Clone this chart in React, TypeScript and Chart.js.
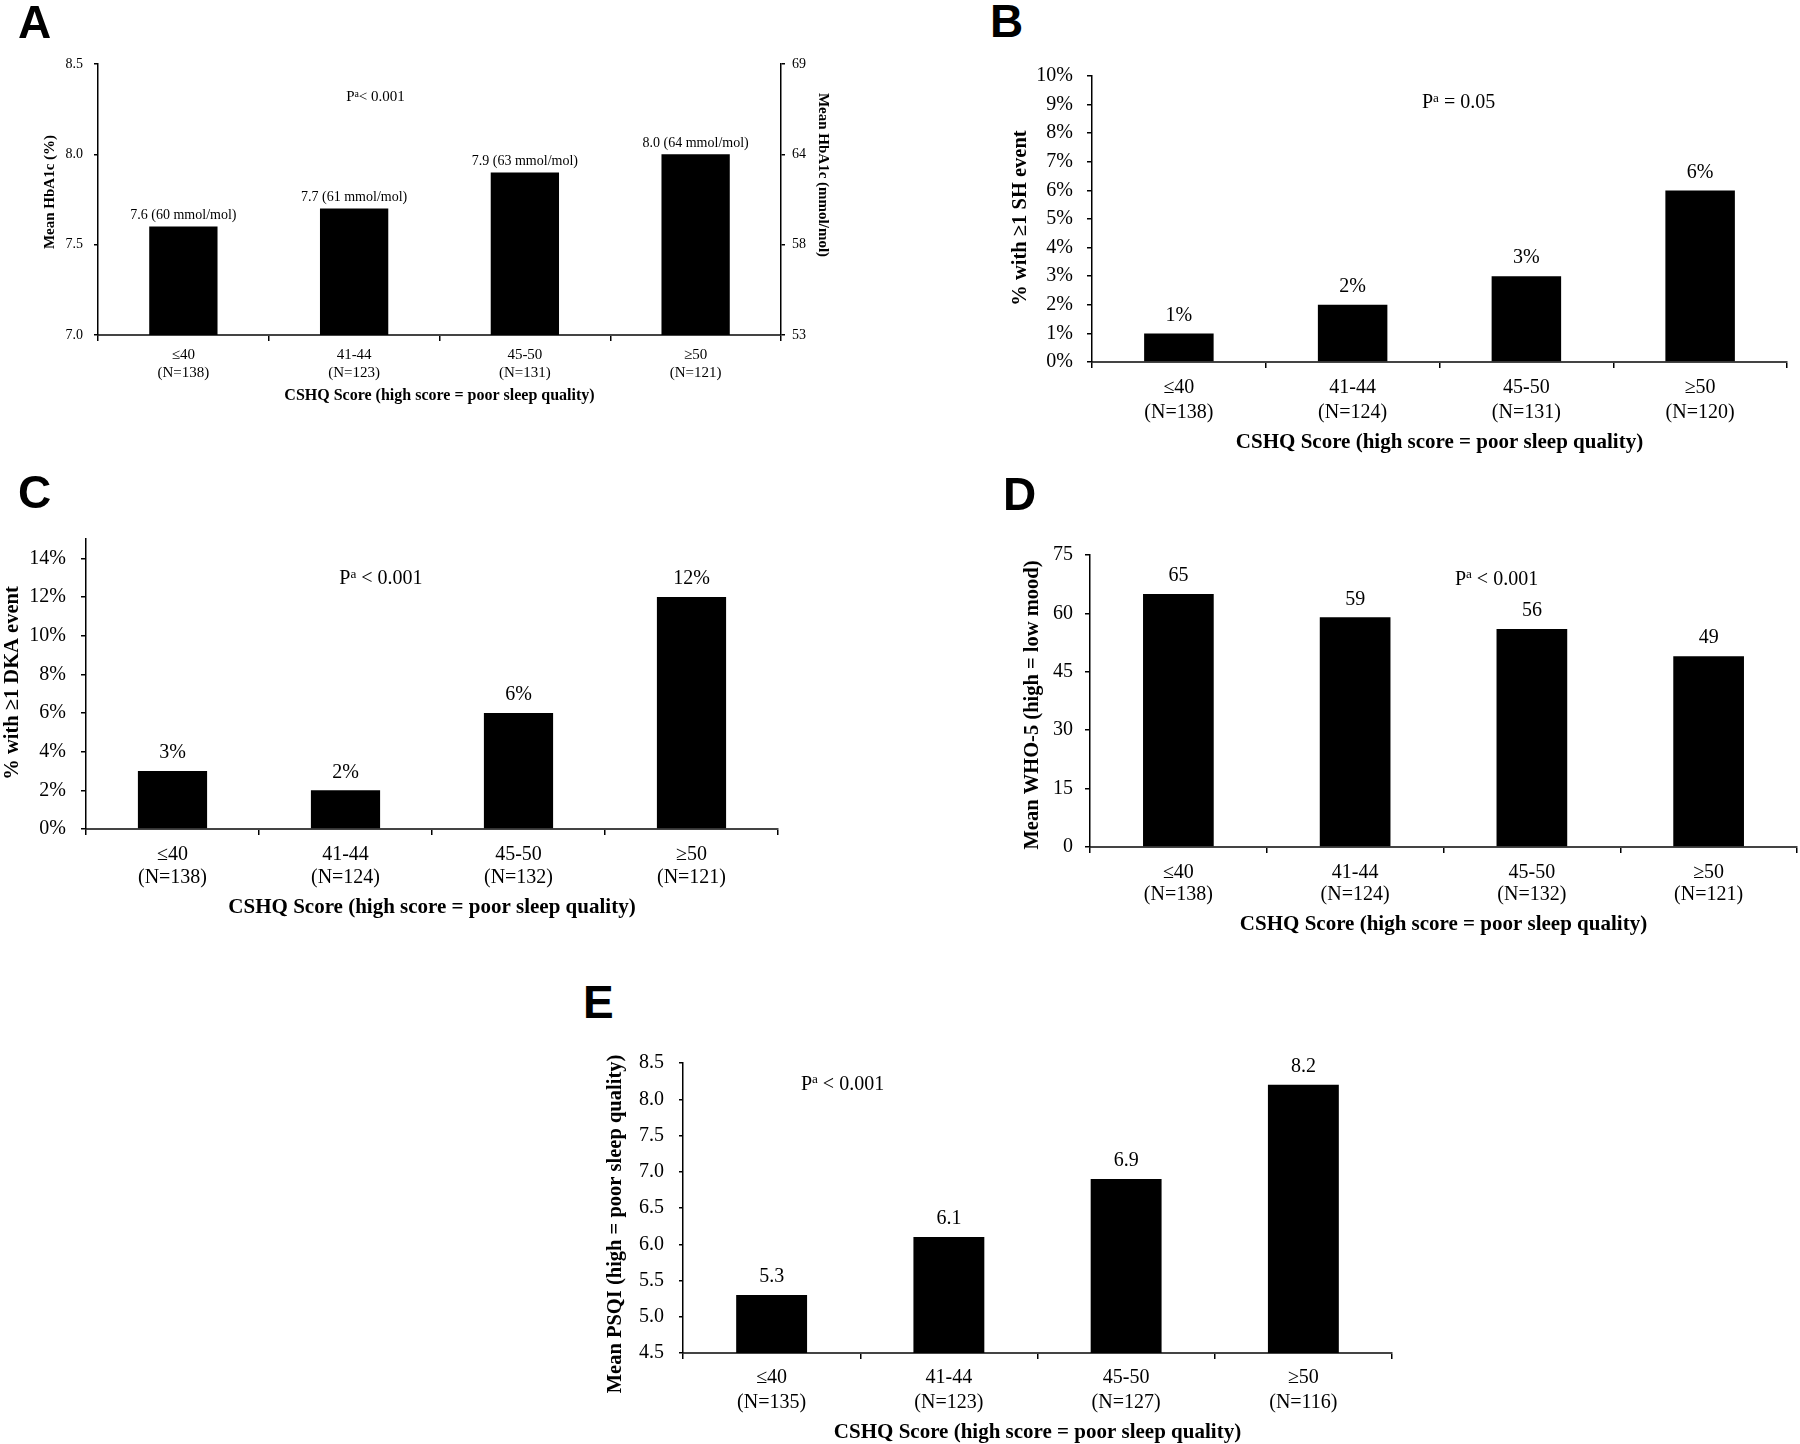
import React, { useEffect, useRef } from 'react';
import { Chart, registerables } from 'chart.js';
Chart.register(...registerables);

const SERIF = '"Liberation Serif", "Times New Roman", Times, serif';
const SANS = '"Liberation Sans", Arial, Helvetica, sans-serif';

// ---------- data ----------
const categories = ['≤40', '41-44', '45-50', '≥50'];
const nA = ['(N=138)', '(N=123)', '(N=131)', '(N=121)'];
const nB = ['(N=138)', '(N=124)', '(N=131)', '(N=120)'];
const nC = ['(N=138)', '(N=124)', '(N=132)', '(N=121)'];
const nD = ['(N=138)', '(N=124)', '(N=132)', '(N=121)'];
const nE = ['(N=135)', '(N=123)', '(N=127)', '(N=116)'];

const hba1cPct = [7.6, 7.7, 7.9, 8.0];
const hba1cMmol = [60, 61, 63, 64];
const hba1cRightTickLabels = ['53', '58', '64', '69'];
const shEventPct = [1, 2, 3, 6];
const dkaEventPct = [3, 2, 6, 12];
const who5Mean = [65, 59, 56, 49];
const psqiMean = [5.3, 6.1, 6.9, 8.2];

const xTitle = 'CSHQ Score (high score = poor sleep quality)';

type Box = { l: number; t: number; w: number; h: number };
type Area = { l: number; t: number; r: number; b: number };

interface PanelCfg {
  letter: string;
  letterX: number;
  letterBase: number;
  canvas: Box;
  area: Area;
  nLabels: string[];
  values: number[];
  dataLabel: (v: number, i: number) => string;
  labelSize: number;
  labelOffset: number;
  y: { min: number; max: number; step: number; fmt: (v: number) => string; includeBounds: boolean; tl: number; pad: number; size: number };
  y2?: { labels: string[]; tl: number; pad: number; size: number };
  x: { size: number; lh: number; tl: number; pad: number; titleSize: number; titleLH: number; titlePB: number };
  titles: { text: string; x: number; y: number; size: number; rot: number }[];
  p: { suffix: string; xIdx: number; yVal: number; size: number };
}

const panels: PanelCfg[] = [
  {
    letter: 'A', letterX: 18, letterBase: 38,
    canvas: { l: 0, t: 40, w: 870, h: 380 },
    area: { l: 98, t: 64, r: 781, b: 335 },
    nLabels: nA, values: hba1cPct,
    dataLabel: (v, i) => `${v.toFixed(1)} (${hba1cMmol[i]} mmol/mol)`,
    labelSize: 14, labelOffset: 11,
    y: { min: 7, max: 8.5, step: 0.5, fmt: (v) => v.toFixed(1), includeBounds: true, tl: 4, pad: 11, size: 14 },
    y2: { labels: hba1cRightTickLabels, tl: 4, pad: 7, size: 14 },
    x: { size: 15, lh: 1.2, tl: 6, pad: 5, titleSize: 16, titleLH: 1.2, titlePB: 14.4 },
    titles: [
      { text: 'Mean HbA1c (%)', x: 50, y: 192, size: 15, rot: -Math.PI / 2 },
      { text: 'Mean HbA1c (mmol/mol)', x: 823, y: 175, size: 15, rot: Math.PI / 2 },
    ],
    p: { suffix: '< 0.001', xIdx: 1.125, yVal: 8.32, size: 15 },
  },
  {
    letter: 'B', letterX: 990, letterBase: 37,
    canvas: { l: 980, t: 50, w: 820, h: 420 },
    area: { l: 1092, t: 73, r: 1787, b: 362 },
    nLabels: nB, values: shEventPct,
    dataLabel: (v) => `${v}%`,
    labelSize: 20, labelOffset: 18,
    y: { min: 0, max: 10, step: 1, fmt: (v) => `${v}%`, includeBounds: true, tl: 5, pad: 14, size: 20 },
    x: { size: 20, lh: 1.25, tl: 6, pad: 7.5, titleSize: 21, titleLH: 1.2, titlePB: 14.4 },
    titles: [{ text: '% with ≥1 SH event', x: 1021, y: 218, size: 20.5, rot: -Math.PI / 2 }],
    p: { suffix: ' = 0.05', xIdx: 1.61, yVal: 9.1, size: 20 },
  },
  {
    letter: 'C', letterX: 18, letterBase: 508,
    canvas: { l: 0, t: 500, w: 880, h: 440 },
    area: { l: 86, t: 539, r: 778, b: 829 },
    nLabels: nC, values: dkaEventPct,
    dataLabel: (v) => `${v}%`,
    labelSize: 20, labelOffset: 18,
    y: { min: 0, max: 15, step: 2, fmt: (v) => `${v}%`, includeBounds: false, tl: 5, pad: 15, size: 20 },
    x: { size: 20, lh: 1.15, tl: 6, pad: 8.5, titleSize: 21, titleLH: 1.2, titlePB: 19.4 },
    titles: [{ text: '% with ≥1 DKA event', x: 13, y: 683, size: 20.5, rot: -Math.PI / 2 }],
    p: { suffix: ' < 0.001', xIdx: 1.205, yVal: 13, size: 20 },
  },
  {
    letter: 'D', letterX: 1003, letterBase: 510,
    canvas: { l: 980, t: 520, w: 820, h: 430 },
    area: { l: 1090, t: 555, r: 1797, b: 847 },
    nLabels: nD, values: who5Mean,
    dataLabel: (v) => `${v}`,
    labelSize: 20, labelOffset: 18,
    y: { min: 0, max: 75, step: 15, fmt: (v) => `${v}`, includeBounds: true, tl: 5, pad: 12, size: 20 },
    x: { size: 20, lh: 1.1, tl: 6, pad: 9, titleSize: 21, titleLH: 1.2, titlePB: 12.4 },
    titles: [{ text: 'Mean WHO-5 (high = low mood)', x: 1033, y: 705, size: 20.5, rot: -Math.PI / 2 }],
    p: { suffix: ' < 0.001', xIdx: 1.8, yVal: 69.1, size: 20 },
  },
  {
    letter: 'E', letterX: 583, letterBase: 1018,
    canvas: { l: 560, t: 1030, w: 860, h: 414 },
    area: { l: 683, t: 1063, r: 1392, b: 1353 },
    nLabels: nE, values: psqiMean,
    dataLabel: (v) => v.toFixed(1),
    labelSize: 20, labelOffset: 18,
    y: { min: 4.5, max: 8.5, step: 0.5, fmt: (v) => v.toFixed(1), includeBounds: true, tl: 4, pad: 15, size: 20 },
    x: { size: 20, lh: 1.25, tl: 6, pad: 6.5, titleSize: 21, titleLH: 1.0, titlePB: 0.5 },
    titles: [{ text: 'Mean PSQI (high = poor sleep quality)', x: 616, y: 1224, size: 20.5, rot: -Math.PI / 2 }],
    p: { suffix: ' < 0.001', xIdx: 0.4, yVal: 8.22, size: 20 },
  },
];

function makeAnnotPlugin(cfg: PanelCfg) {
  return {
    id: 'annot' + cfg.letter,
    afterDraw(chart: any) {
      const ctx: CanvasRenderingContext2D = chart.ctx;
      const meta = chart.getDatasetMeta(0);
      const xs = chart.scales.x;
      const ys = chart.scales.y;
      ctx.save();
      ctx.fillStyle = '#000';
      // data labels
      ctx.textAlign = 'center';
      ctx.textBaseline = 'middle';
      ctx.font = `${cfg.labelSize}px ${SERIF}`;
      meta.data.forEach((bar: any, i: number) => {
        const v = chart.data.datasets[0].data[i];
        ctx.fillText(cfg.dataLabel(v, i), bar.x, bar.y - cfg.labelOffset);
      });
      // P label with superscript a
      const size = cfg.p.size;
      const cx = xs.getPixelForValue(cfg.p.xIdx);
      const cy = ys.getPixelForValue(cfg.p.yVal);
      const mainF = `${size}px ${SERIF}`;
      const supF = `${size * 0.66}px ${SERIF}`;
      ctx.font = mainF;
      const wP = ctx.measureText('P').width;
      const wS = ctx.measureText(cfg.p.suffix).width;
      ctx.font = supF;
      const wa = ctx.measureText('a').width;
      let px = cx - (wP + wa + wS) / 2;
      const base = cy + size * 0.33;
      ctx.textAlign = 'left';
      ctx.textBaseline = 'alphabetic';
      ctx.font = mainF;
      ctx.fillText('P', px, base);
      px += wP;
      ctx.font = supF;
      ctx.fillText('a', px, base - size * 0.33);
      px += wa;
      ctx.font = mainF;
      ctx.fillText(cfg.p.suffix, px, base);
      // rotated axis titles
      cfg.titles.forEach((t) => {
        ctx.save();
        ctx.translate(t.x - cfg.canvas.l, t.y - cfg.canvas.t);
        ctx.rotate(t.rot);
        ctx.font = `bold ${t.size}px ${SERIF}`;
        ctx.textAlign = 'center';
        ctx.textBaseline = 'middle';
        ctx.fillText(t.text, 0, 0);
        ctx.restore();
      });
      ctx.restore();
    },
  };
}

function Panel({ cfg }: { cfg: PanelCfg }) {
  const ref = useRef<HTMLCanvasElement>(null);
  useEffect(() => {
    if (!ref.current) return;
    const { canvas: c, area: a } = cfg;
    const yWidth = a.l - c.l;
    const rightSpace = c.l + c.w - a.r;
    const xHeight = c.t + c.h - a.b;
    const scales: any = {
      x: {
        type: 'category',
        offset: true,
        grid: {
          display: true, drawOnChartArea: false, drawTicks: true, offset: true,
          tickLength: cfg.x.tl, color: '#000', lineWidth: 1.5,
        },
        border: { display: true, color: '#444', width: 2 },
        ticks: {
          color: '#000', padding: cfg.x.pad, maxRotation: 0, minRotation: 0, autoSkip: false,
          font: { family: SERIF, size: cfg.x.size, lineHeight: cfg.x.lh },
        },
        title: {
          display: true, text: xTitle, color: '#000',
          font: { family: SERIF, size: cfg.x.titleSize, weight: 'bold', lineHeight: cfg.x.titleLH },
          padding: { top: 0, bottom: cfg.x.titlePB },
        },
        afterFit: (s: any) => { s.height = xHeight; },
      },
      y: {
        type: 'linear', position: 'left', min: cfg.y.min, max: cfg.y.max,
        grid: { drawOnChartArea: false, drawTicks: true, tickLength: cfg.y.tl, color: '#000', lineWidth: 1.5 },
        border: { display: true, color: '#000', width: 1.5 },
        ticks: {
          stepSize: cfg.y.step, includeBounds: cfg.y.includeBounds, color: '#000', padding: cfg.y.pad,
          font: { family: SERIF, size: cfg.y.size },
          callback: (v: any) => cfg.y.fmt(Number(v)),
        },
        title: { display: false },
        afterFit: (s: any) => { s.width = yWidth; },
      },
    };
    if (cfg.y2) {
      const y2 = cfg.y2;
      scales.y2 = {
        type: 'linear', position: 'right', min: cfg.y.min, max: cfg.y.max,
        grid: { drawOnChartArea: false, drawTicks: true, tickLength: y2.tl, color: '#000', lineWidth: 1.5 },
        border: { display: true, color: '#000', width: 1.5 },
        ticks: {
          stepSize: cfg.y.step, color: '#000', padding: y2.pad,
          font: { family: SERIF, size: y2.size },
          callback: (_v: any, i: number) => y2.labels[i],
        },
        afterFit: (s: any) => { s.width = rightSpace; },
      };
    }
    const chart = new Chart(ref.current, {
      type: 'bar',
      data: {
        labels: categories.map((cat, i) => [cat, cfg.nLabels[i]]),
        datasets: [{
          data: cfg.values,
          backgroundColor: '#000',
          borderColor: '#222',
          borderWidth: 0,
          barPercentage: 0.4,
          categoryPercentage: 1.0,
          yAxisID: 'y',
        }],
      },
      options: {
        animation: false,
        responsive: false,
        maintainAspectRatio: false,
        devicePixelRatio: 1,
        layout: { padding: { left: 0, top: a.t - c.t, right: cfg.y2 ? 0 : rightSpace, bottom: 0 } },
        plugins: { legend: { display: false }, tooltip: { enabled: false }, title: { display: false } },
        scales,
      } as any,
      plugins: [makeAnnotPlugin(cfg)],
    });
    return () => chart.destroy();
  }, [cfg]);
  const { canvas: c } = cfg;
  return (
    <>
      <canvas
        ref={ref}
        width={c.w}
        height={c.h}
        style={{ position: 'absolute', left: c.l, top: c.t, width: c.w, height: c.h }}
      />
      <div
        style={{
          position: 'absolute', left: cfg.letterX, top: cfg.letterBase - 39,
          fontFamily: SANS, fontWeight: 'bold', fontSize: 46, lineHeight: '46px', color: '#000',
        }}
      >
        {cfg.letter}
      </div>
    </>
  );
}

export default function App() {
  useEffect(() => {
    document.body.style.margin = '0';
    document.body.style.overflow = 'hidden';
    document.body.style.background = '#fff';
  }, []);
  return (
    <div style={{ position: 'relative', width: 1800, height: 1444, background: '#fff', overflow: 'hidden' }}>
      {panels.map((p) => (
        <Panel key={p.letter} cfg={p} />
      ))}
    </div>
  );
}
